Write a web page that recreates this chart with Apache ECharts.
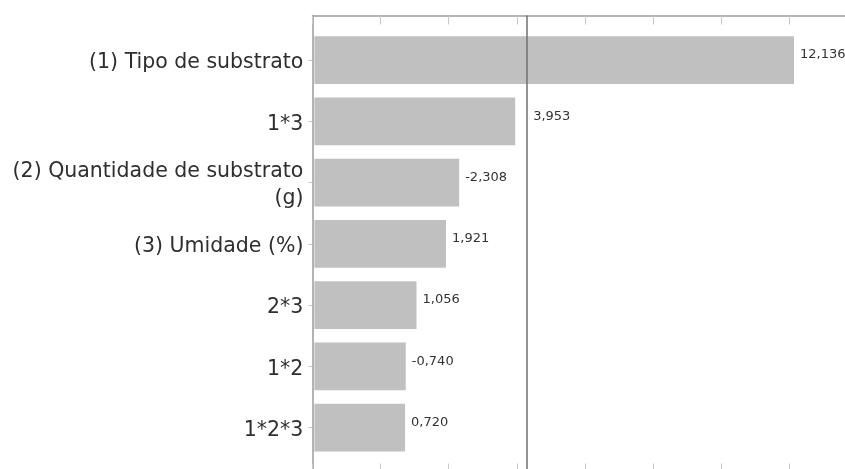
<!DOCTYPE html>
<html>
<head>
<meta charset="utf-8">
<script src="https://cdn.jsdelivr.net/npm/echarts@6/dist/echarts.min.js"></script>
<style>
  html, body { margin: 0; padding: 0; background: #ffffff; }
  #chart { width: 845px; height: 469px; }
</style>
</head>
<body>
<div id="chart"></div>
<script>
// Pareto chart of standardized effects
const factors = [
  '(1) Tipo de substrato',
  '1*3',
  '(2) Quantidade de substrato\n(g)',
  '(3) Umidade (%)',
  '2*3',
  '1*2',
  '1*2*3'
];
const effects = [12.136, 3.953, -2.308, 1.921, 1.056, -0.740, 0.720];
const tCritical = 4.303;
const axisTicks = { min: -2, max: 14, interval: 2 };

const FONT = '"DejaVu Sans", sans-serif';
const plotLeft = 312.4;
const plotWidth = 545.1;
const barTop = 29.4;
const barHeight = 428.75;

const chart = echarts.init(document.getElementById('chart'), null, { renderer: 'canvas' });

const fmt = v => v.toFixed(3).replace('.', ',');

const barData = effects.map((v, i) => [Math.abs(v), i, v]);

function renderBar(params, api) {
  const idx = api.value(1);
  const len = api.value(0);
  const signed = api.value(2);
  const start = api.coord([axisTicks.min, idx]);
  const end = api.coord([len, idx]);
  const band = api.size([0, 1])[1];
  const h = band * 0.78;
  const x0 = start[0] + 2;
  // keep a value label clear of the critical-value line
  let lx = end[0] + 6;
  const refX = api.coord([tCritical, idx])[0];
  if (lx < refX + 5 && lx + 40 > refX) lx = refX + 6;
  return {
    type: 'group',
    children: [
      {
        type: 'rect',
        shape: { x: x0, y: end[1] - h / 2, width: end[0] - x0, height: h },
        style: { fill: '#c0c0c0' }
      },
      {
        type: 'text',
        x: lx,
        y: end[1] - 5,
        style: {
          text: fmt(signed),
          fill: '#333333',
          font: '13px ' + FONT,
          align: 'left',
          verticalAlign: 'middle'
        }
      }
    ]
  };
}

function frameAxis(position) {
  return {
    gridIndex: 1,
    position: position,
    type: 'value',
    min: axisTicks.min,
    max: axisTicks.max,
    interval: axisTicks.interval,
    axisLine: { show: true, onZero: false, lineStyle: { color: '#9a9a9a', width: 1.5 } },
    axisTick: { show: true, inside: true, length: 9, lineStyle: { color: '#c8c8c8', width: 1 } },
    axisLabel: { show: false },
    splitLine: { show: false }
  };
}

const hiddenX = gridIndex => ({
  gridIndex: gridIndex, type: 'value',
  min: axisTicks.min, max: axisTicks.max, interval: axisTicks.interval,
  show: false
});

chart.setOption({
  animation: false,
  backgroundColor: '#ffffff',
  grid: [
    // bars
    { left: plotLeft, width: plotWidth, top: barTop, height: barHeight, containLabel: false, outerBoundsMode: 'none' },
    // frame: top/bottom tick lines and left axis line
    { left: plotLeft, width: plotWidth, top: 15.5, height: 457, containLabel: false, outerBoundsMode: 'none' },
    // factor names, set slightly lower than the bar centres
    { left: plotLeft, width: plotWidth, top: barTop + 3, height: barHeight, containLabel: false, outerBoundsMode: 'none' }
  ],
  xAxis: [
    hiddenX(0),
    frameAxis('top'),
    frameAxis('bottom'),
    hiddenX(2)
  ],
  yAxis: [
    {
      gridIndex: 0,
      type: 'category',
      inverse: true,
      data: factors,
      axisLine: { show: false, onZero: false },
      axisTick: { show: true, alignWithLabel: true, length: 4, lineStyle: { color: '#c4c4c4' } },
      splitLine: { show: false },
      axisLabel: { show: false }
    },
    {
      gridIndex: 1,
      type: 'value',
      min: 0, max: 1,
      axisLine: { show: true, onZero: false, lineStyle: { color: '#9a9a9a', width: 1.5 } },
      axisTick: { show: false },
      axisLabel: { show: false },
      splitLine: { show: false }
    },
    {
      gridIndex: 2,
      type: 'category',
      inverse: true,
      data: factors,
      axisLine: { show: false, onZero: false },
      axisTick: { show: false },
      splitLine: { show: false },
      axisLabel: {
        margin: 9,
        color: '#2e2e2e',
        fontFamily: FONT,
        fontSize: 20.5,
        lineHeight: 27,
        align: 'right'
      }
    }
  ],
  series: [
    {
      type: 'custom',
      xAxisIndex: 0,
      yAxisIndex: 0,
      renderItem: renderBar,
      encode: { x: 0, y: 1 },
      data: barData,
      clip: false,
      silent: true
    },
    {
      type: 'scatter',
      xAxisIndex: 1,
      yAxisIndex: 1,
      data: [],
      silent: true,
      markLine: {
        silent: true,
        symbol: 'none',
        label: { show: false },
        lineStyle: { color: '#707070', width: 1.5, type: 'solid' },
        data: [{ xAxis: tCritical }]
      }
    }
  ]
});
</script>
</body>
</html>
